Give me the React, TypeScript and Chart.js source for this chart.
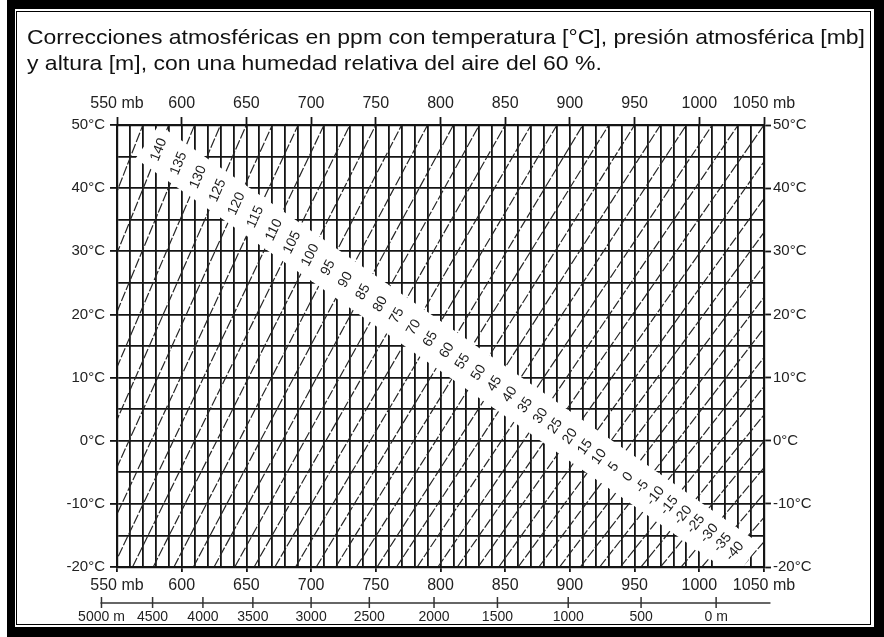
import React, { useEffect, useRef } from "react";
import { Chart, registerables } from "chart.js";

Chart.register(...registerables);

// ---------- text ----------
const TITLE_LINES = [
  "Correcciones atmosféricas en ppm con temperatura [°C], presión atmosférica [mb]",
  "y altura [m], con una humedad relativa del aire del 60 %.",
];

// ---------- axes ----------
const PRESSURE_MIN = 550;
const PRESSURE_MAX = 1050;
const TEMP_MIN = -20;
const TEMP_MAX = 50;

const PRESSURE_TICKS = [550, 600, 650, 700, 750, 800, 850, 900, 950, 1000, 1050];
const PRESSURE_TICK_LABELS = ["550 mb", "600", "650", "700", "750", "800", "850", "900", "950", "1000", "1050 mb"];

const TEMP_TICKS = [-20, -10, 0, 10, 20, 30, 40, 50];
const TEMP_TICK_LABELS = ["-20°C", "-10°C", "0°C", "10°C", "20°C", "30°C", "40°C", "50°C"];

// altitude scale (standard atmosphere) – pressure [mb] where each altitude tick sits
const ALTITUDE_LABELS = ["5000 m", "4500", "4000", "3500", "3000", "2500", "2000", "1500", "1000", "500", "0 m"];
const ALTITUDE_PRESSURE = [538, 577.5, 616.4, 655, 700, 745, 795, 844, 898.7, 955, 1013];

// ---------- ppm isolines: pressure where each line crosses -20 °C and 50 °C ----------
const PPM_VALUES = [150, 145, 140, 135, 130, 125, 120, 115, 110, 105, 100, 95, 90, 85, 80, 75, 70, 65, 60, 55, 50, 45, 40, 35, 30, 25, 20, 15, 10, 5, 0, -5, -10, -15, -20, -25, -30, -35, -40, -45, -50];
const P_AT_MINUS20 = [421, 437, 452, 468, 484, 500, 515, 531, 547, 562, 578, 594, 609, 625, 641, 656, 672, 688, 704, 719, 735, 751, 766, 782, 798, 813, 829, 845, 860, 876, 892, 908, 923, 939, 955, 970, 986, 1002, 1017, 1033, 1049];
const P_AT_50 = [550, 570, 590, 610, 630, 650, 670, 690, 710, 730, 750, 770, 790, 810, 830, 850, 870, 890, 910, 930, 950, 970, 990, 1010, 1030, 1050, 1070, 1091, 1111, 1131, 1151, 1171, 1191, 1211, 1231, 1251, 1271, 1291, 1311, 1331, 1351];
const LABELED_PPM = [140, 135, 130, 125, 120, 115, 110, 105, 100, 95, 90, 85, 80, 75, 70, 65, 60, 55, 50, 45, 40, 35, 30, 25, 20, 15, 10, 5, 0, -5, -10, -15, -20, -25, -30, -35, -40];

// white label band axis (pressure, temperature)
const BAND_AXIS_P = [555, 1045];
const BAND_AXIS_T = [50, -20];

const FONT = "'Liberation Sans', Arial, Helvetica, sans-serif";
const INK = "#141414";

function labelFor(value: number, ticks: number[], labels: string[]) {
  const i = ticks.findIndex((t) => Math.abs(t - value) < 1e-6);
  return i >= 0 ? labels[i] : "";
}

export default function App() {
  const canvasRef = useRef<HTMLCanvasElement | null>(null);

  useEffect(() => {
    const canvas = canvasRef.current;
    if (!canvas) return;

    const datasets = PPM_VALUES.map((v, i) => ({
      label: `${v} ppm`,
      data: [
        { x: P_AT_MINUS20[i], y: TEMP_MIN },
        { x: P_AT_50[i], y: TEMP_MAX },
      ],
      borderColor: "#262626",
      borderWidth: 1.2,
      borderDash: [10, 2],
      pointRadius: 0,
      fill: false,
      tension: 0,
      xAxisID: "x",
      yAxisID: "y",
    }));

    const bandPlugin = {
      id: "bandPlugin",
      afterDatasetsDraw(chart: any) {
        const { ctx, chartArea: ca, scales } = chart;
        const xs = scales.x;
        const ys = scales.y;
        const px = (p: number, t: number) => ({ x: xs.getPixelForValue(p), y: ys.getPixelForValue(t) });
        const a = px(BAND_AXIS_P[0], BAND_AXIS_T[0]);
        const b = px(BAND_AXIS_P[1], BAND_AXIS_T[1]);
        const dx = b.x - a.x;
        const dy = b.y - a.y;
        const len = Math.hypot(dx, dy);
        const ux = dx / len;
        const uy = dy / len;
        const nx = -uy;
        const ny = ux;

        const labels = LABELED_PPM.map((v) => {
          const i = PPM_VALUES.indexOf(v);
          const p1 = px(P_AT_MINUS20[i], TEMP_MIN);
          const p2 = px(P_AT_50[i], TEMP_MAX);
          const rx = p2.x - p1.x;
          const ry = p2.y - p1.y;
          const denom = rx * uy - ry * ux;
          const s = ((a.x - p1.x) * uy - (a.y - p1.y) * ux) / denom;
          const x = p1.x + s * rx;
          const y = p1.y + s * ry;
          const angle = Math.atan2(ry, rx);
          const along = (x - a.x) * ux + (y - a.y) * uy;
          return { v, x, y, angle, along };
        });

        const s0 = labels[0].along - 14;
        const s1 = labels[labels.length - 1].along + 16;
        const half = 20.5;
        const c0 = { x: a.x + ux * s0, y: a.y + uy * s0 };
        const c1 = { x: a.x + ux * s1, y: a.y + uy * s1 };

        ctx.save();
        ctx.beginPath();
        ctx.rect(ca.left, ca.top, ca.right - ca.left, ca.bottom - ca.top);
        ctx.clip();
        ctx.beginPath();
        ctx.moveTo(c0.x + nx * half, c0.y + ny * half);
        ctx.lineTo(c1.x + nx * half, c1.y + ny * half);
        ctx.lineTo(c1.x - nx * half, c1.y - ny * half);
        ctx.lineTo(c0.x - nx * half, c0.y - ny * half);
        ctx.closePath();
        ctx.fillStyle = "#ffffff";
        ctx.fill();
        ctx.restore();

        ctx.save();
        ctx.fillStyle = "#1c1c1c";
        ctx.font = `14px ${FONT}`;
        ctx.textAlign = "center";
        ctx.textBaseline = "middle";
        labels.forEach((l) => {
          ctx.save();
          ctx.translate(l.x, l.y);
          ctx.rotate(l.angle);
          ctx.fillText(String(l.v), 0, 0);
          ctx.restore();
        });
        ctx.restore();
      },
    };

    const decorPlugin = {
      id: "decorPlugin",
      afterDraw(chart: any) {
        const { ctx, chartArea: ca, scales } = chart;
        const xs = scales.x;
        // title, stretched horizontally like the reference lettering
        ctx.save();
        ctx.fillStyle = "#111";
        ctx.font = `21px ${FONT}`;
        ctx.textAlign = "left";
        ctx.textBaseline = "alphabetic";
        const w0 = ctx.measureText(TITLE_LINES[0]).width;
        const sx = 838 / w0;
        ctx.translate(27, 0);
        ctx.scale(sx, 1);
        ctx.fillText(TITLE_LINES[0], 0, 44);
        ctx.fillText(TITLE_LINES[1], 0, 70);
        ctx.restore();

        // altitude axis
        const yLine = ca.bottom + 36;
        const xStart = xs.getPixelForValue(ALTITUDE_PRESSURE[0]) - 1;
        const xEnd = xs.getPixelForValue(1055);
        ctx.save();
        ctx.strokeStyle = "#333";
        ctx.lineWidth = 1.7;
        ctx.beginPath();
        ctx.moveTo(xStart, yLine);
        ctx.lineTo(xEnd, yLine);
        ctx.stroke();
        ctx.lineWidth = 1.5;
        ctx.fillStyle = "#222";
        ctx.font = `14px ${FONT}`;
        ctx.textAlign = "center";
        ctx.textBaseline = "middle";
        ALTITUDE_PRESSURE.forEach((p, i) => {
          const x = xs.getPixelForValue(p);
          ctx.beginPath();
          ctx.moveTo(x, yLine - 6);
          ctx.lineTo(x, yLine + 5);
          ctx.stroke();
          ctx.fillText(ALTITUDE_LABELS[i], x, yLine + 14);
        });
        ctx.restore();
      },
    };

    const majorP = (v: number) => PRESSURE_TICKS.some((t) => Math.abs(t - v) < 1e-6);
    const majorT = (v: number) => TEMP_TICKS.some((t) => Math.abs(t - v) < 1e-6);
    const xFont = { family: FONT, size: 16 };
    const yFont = { family: FONT, size: 15 };

    const chart = new Chart(canvas, {
      type: "line",
      data: { datasets: datasets as any },
      options: {
        responsive: false,
        animation: false,
        devicePixelRatio: 1,
        layout: { padding: 0 },
        plugins: { legend: { display: false }, tooltip: { enabled: false }, title: { display: false } },
        scales: {
          x: {
            type: "linear",
            position: "bottom",
            min: PRESSURE_MIN,
            max: PRESSURE_MAX,
            ticks: {
              stepSize: 10,
              autoSkip: false,
              maxRotation: 0,
              minRotation: 0,
              padding: 4,
              color: "#222",
              font: xFont,
              callback: (v: any) => labelFor(Number(v), PRESSURE_TICKS, PRESSURE_TICK_LABELS),
            },
            grid: {
              color: INK,
              lineWidth: 1.8,
              tickLength: 5,
              tickWidth: 1.8,
              tickColor: (c: any) => (c.tick && majorP(c.tick.value) ? INK : "rgba(0,0,0,0)"),
            },
            border: { display: true, color: INK, width: 2.2, z: 1 },
            afterFit: (s: any) => {
              s.height = 70;
            },
          },
          x2: {
            type: "linear",
            position: "top",
            min: PRESSURE_MIN,
            max: PRESSURE_MAX,
            ticks: {
              stepSize: 10,
              autoSkip: false,
              maxRotation: 0,
              minRotation: 0,
              padding: 4,
              color: "#222",
              font: xFont,
              callback: (v: any) => labelFor(Number(v), PRESSURE_TICKS, PRESSURE_TICK_LABELS),
            },
            grid: {
              drawOnChartArea: false,
              color: INK,
              tickLength: 8,
              tickWidth: 1.8,
              tickColor: (c: any) => (c.tick && majorP(c.tick.value) ? INK : "rgba(0,0,0,0)"),
            },
            border: { display: true, color: INK, width: 2.2, z: 1 },
            afterFit: (s: any) => {
              s.height = 125;
            },
          },
          y: {
            type: "linear",
            position: "left",
            min: TEMP_MIN,
            max: TEMP_MAX,
            ticks: {
              stepSize: 5,
              autoSkip: false,
              padding: 5,
              color: "#222",
              font: yFont,
              callback: (v: any) => labelFor(Number(v), TEMP_TICKS, TEMP_TICK_LABELS),
            },
            grid: {
              color: INK,
              lineWidth: 1.8,
              tickLength: 7,
              tickWidth: 1.8,
              tickColor: (c: any) => (c.tick && majorT(c.tick.value) ? INK : "rgba(0,0,0,0)"),
            },
            border: { display: true, color: INK, width: 2.2, z: 1 },
            afterFit: (s: any) => {
              s.width = 117;
            },
          },
          y2: {
            type: "linear",
            position: "right",
            min: TEMP_MIN,
            max: TEMP_MAX,
            ticks: {
              stepSize: 5,
              autoSkip: false,
              padding: 2,
              color: "#222",
              font: yFont,
              callback: (v: any) => labelFor(Number(v), TEMP_TICKS, TEMP_TICK_LABELS),
            },
            grid: {
              drawOnChartArea: false,
              color: INK,
              tickLength: 7,
              tickWidth: 1.8,
              tickColor: (c: any) => (c.tick && majorT(c.tick.value) ? INK : "rgba(0,0,0,0)"),
            },
            border: { display: true, color: INK, width: 2.2, z: 1 },
            afterFit: (s: any) => {
              s.width = 120;
            },
          },
        },
      } as any,
      plugins: [bandPlugin, decorPlugin],
    });

    return () => {
      chart.destroy();
    };
  }, []);

  return (
    <div style={{ position: "fixed", left: 0, top: 0, width: 884, height: 637, background: "#fff", overflow: "hidden" }}>
      <div style={{ position: "absolute", left: 7, top: 0, width: 877, height: 637, background: "#000" }} />
      <div style={{ position: "absolute", left: 15, top: 9, width: 859, height: 618, background: "#fff" }} />
      <div
        style={{
          position: "absolute",
          left: 16,
          top: 11,
          width: 855,
          height: 614,
          border: "1px solid #000",
          boxSizing: "border-box",
        }}
      />
      <canvas
        ref={canvasRef}
        width={884}
        height={637}
        style={{ position: "absolute", left: 0, top: 0, width: 884, height: 637 }}
      />
    </div>
  );
}
